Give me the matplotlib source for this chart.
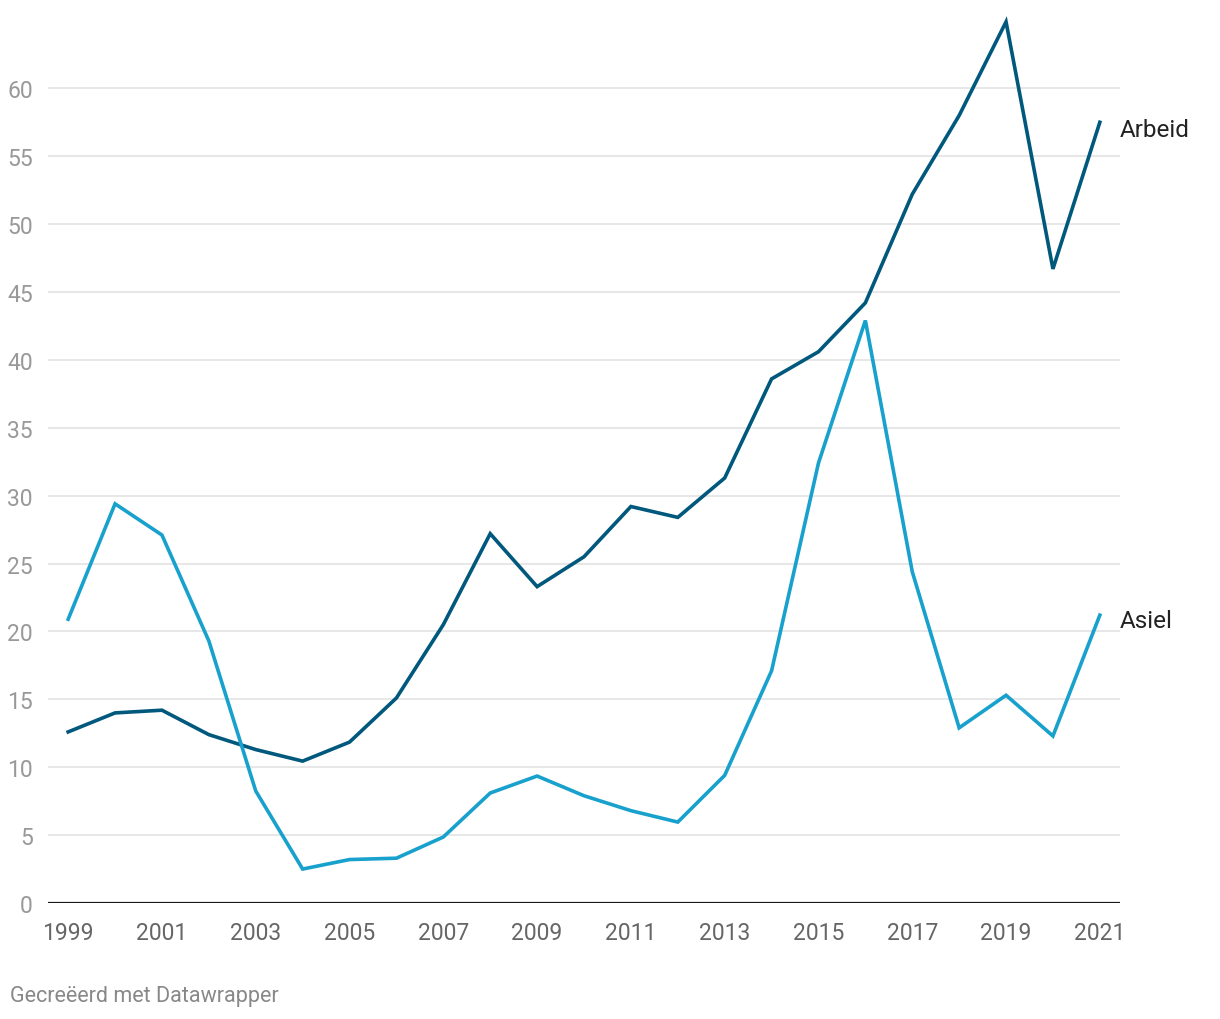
import matplotlib.pyplot as plt

plt.rcParams['font.family'] = ['Roboto', 'DejaVu Sans']

years = list(range(1999, 2022))
arbeid = [12.6, 14.0, 14.2, 12.4, 11.3, 10.45, 11.85, 15.1, 20.5, 27.2, 23.3, 25.5,
          29.2, 28.4, 31.3, 38.6, 40.6, 44.2, 52.2, 58.0, 64.9, 46.7, 57.5]
asiel = [20.9, 29.4, 27.1, 19.3, 8.25, 2.5, 3.2, 3.3, 4.86, 8.1, 9.35, 7.9,
         6.8, 5.96, 9.4, 17.1, 32.4, 42.9, 24.4, 12.9, 15.3, 12.3, 21.2]
xticks = list(range(1999, 2022, 2))
yticks = list(range(0, 61, 5))

fig = plt.figure(figsize=(12.2, 10.2), dpi=100)
ax = fig.add_axes([48 / 1220, 116 / 1020, 1072 / 1220, 888 / 1020])

ax.plot(years, arbeid, color='#00587c', lw=2.6, solid_joinstyle='miter', zorder=3)
ax.plot(years, asiel, color='#18a1cd', lw=2.6, solid_joinstyle='miter', zorder=3)

ax.set_xlim(1998.57, 2021.43)
ax.set_ylim(0, 65.4)
ax.set_yticks(yticks)
ax.set_xticks(xticks)
ax.grid(axis='y', color='#e3e3e3', lw=1.2)
ax.axhline(0, color='#1a1a1a', lw=1.6, zorder=4)
for s in ax.spines.values():
    s.set_visible(False)
ax.tick_params(axis='y', length=0, pad=11, labelsize=16.5, labelcolor='#999999')
ax.tick_params(axis='x', length=0, pad=13, labelsize=16.5, labelcolor='#666666')

ax.annotate('Arbeid', (2021.43, arbeid[-1]), xytext=(0, -5), textcoords='offset points',
            fontsize=17.5, color='#222222', va='center', ha='left')
ax.annotate('Asiel', (2021.43, asiel[-1]), xytext=(0, -4), textcoords='offset points',
            fontsize=17.5, color='#222222', va='center', ha='left')

fig.text(10 / 1220, 1 - 997 / 1020, 'Gecreëerd met Datawrapper', fontsize=15.5,
         color='#888888', va='center', ha='left')

fig.savefig('out.png', dpi=100)
